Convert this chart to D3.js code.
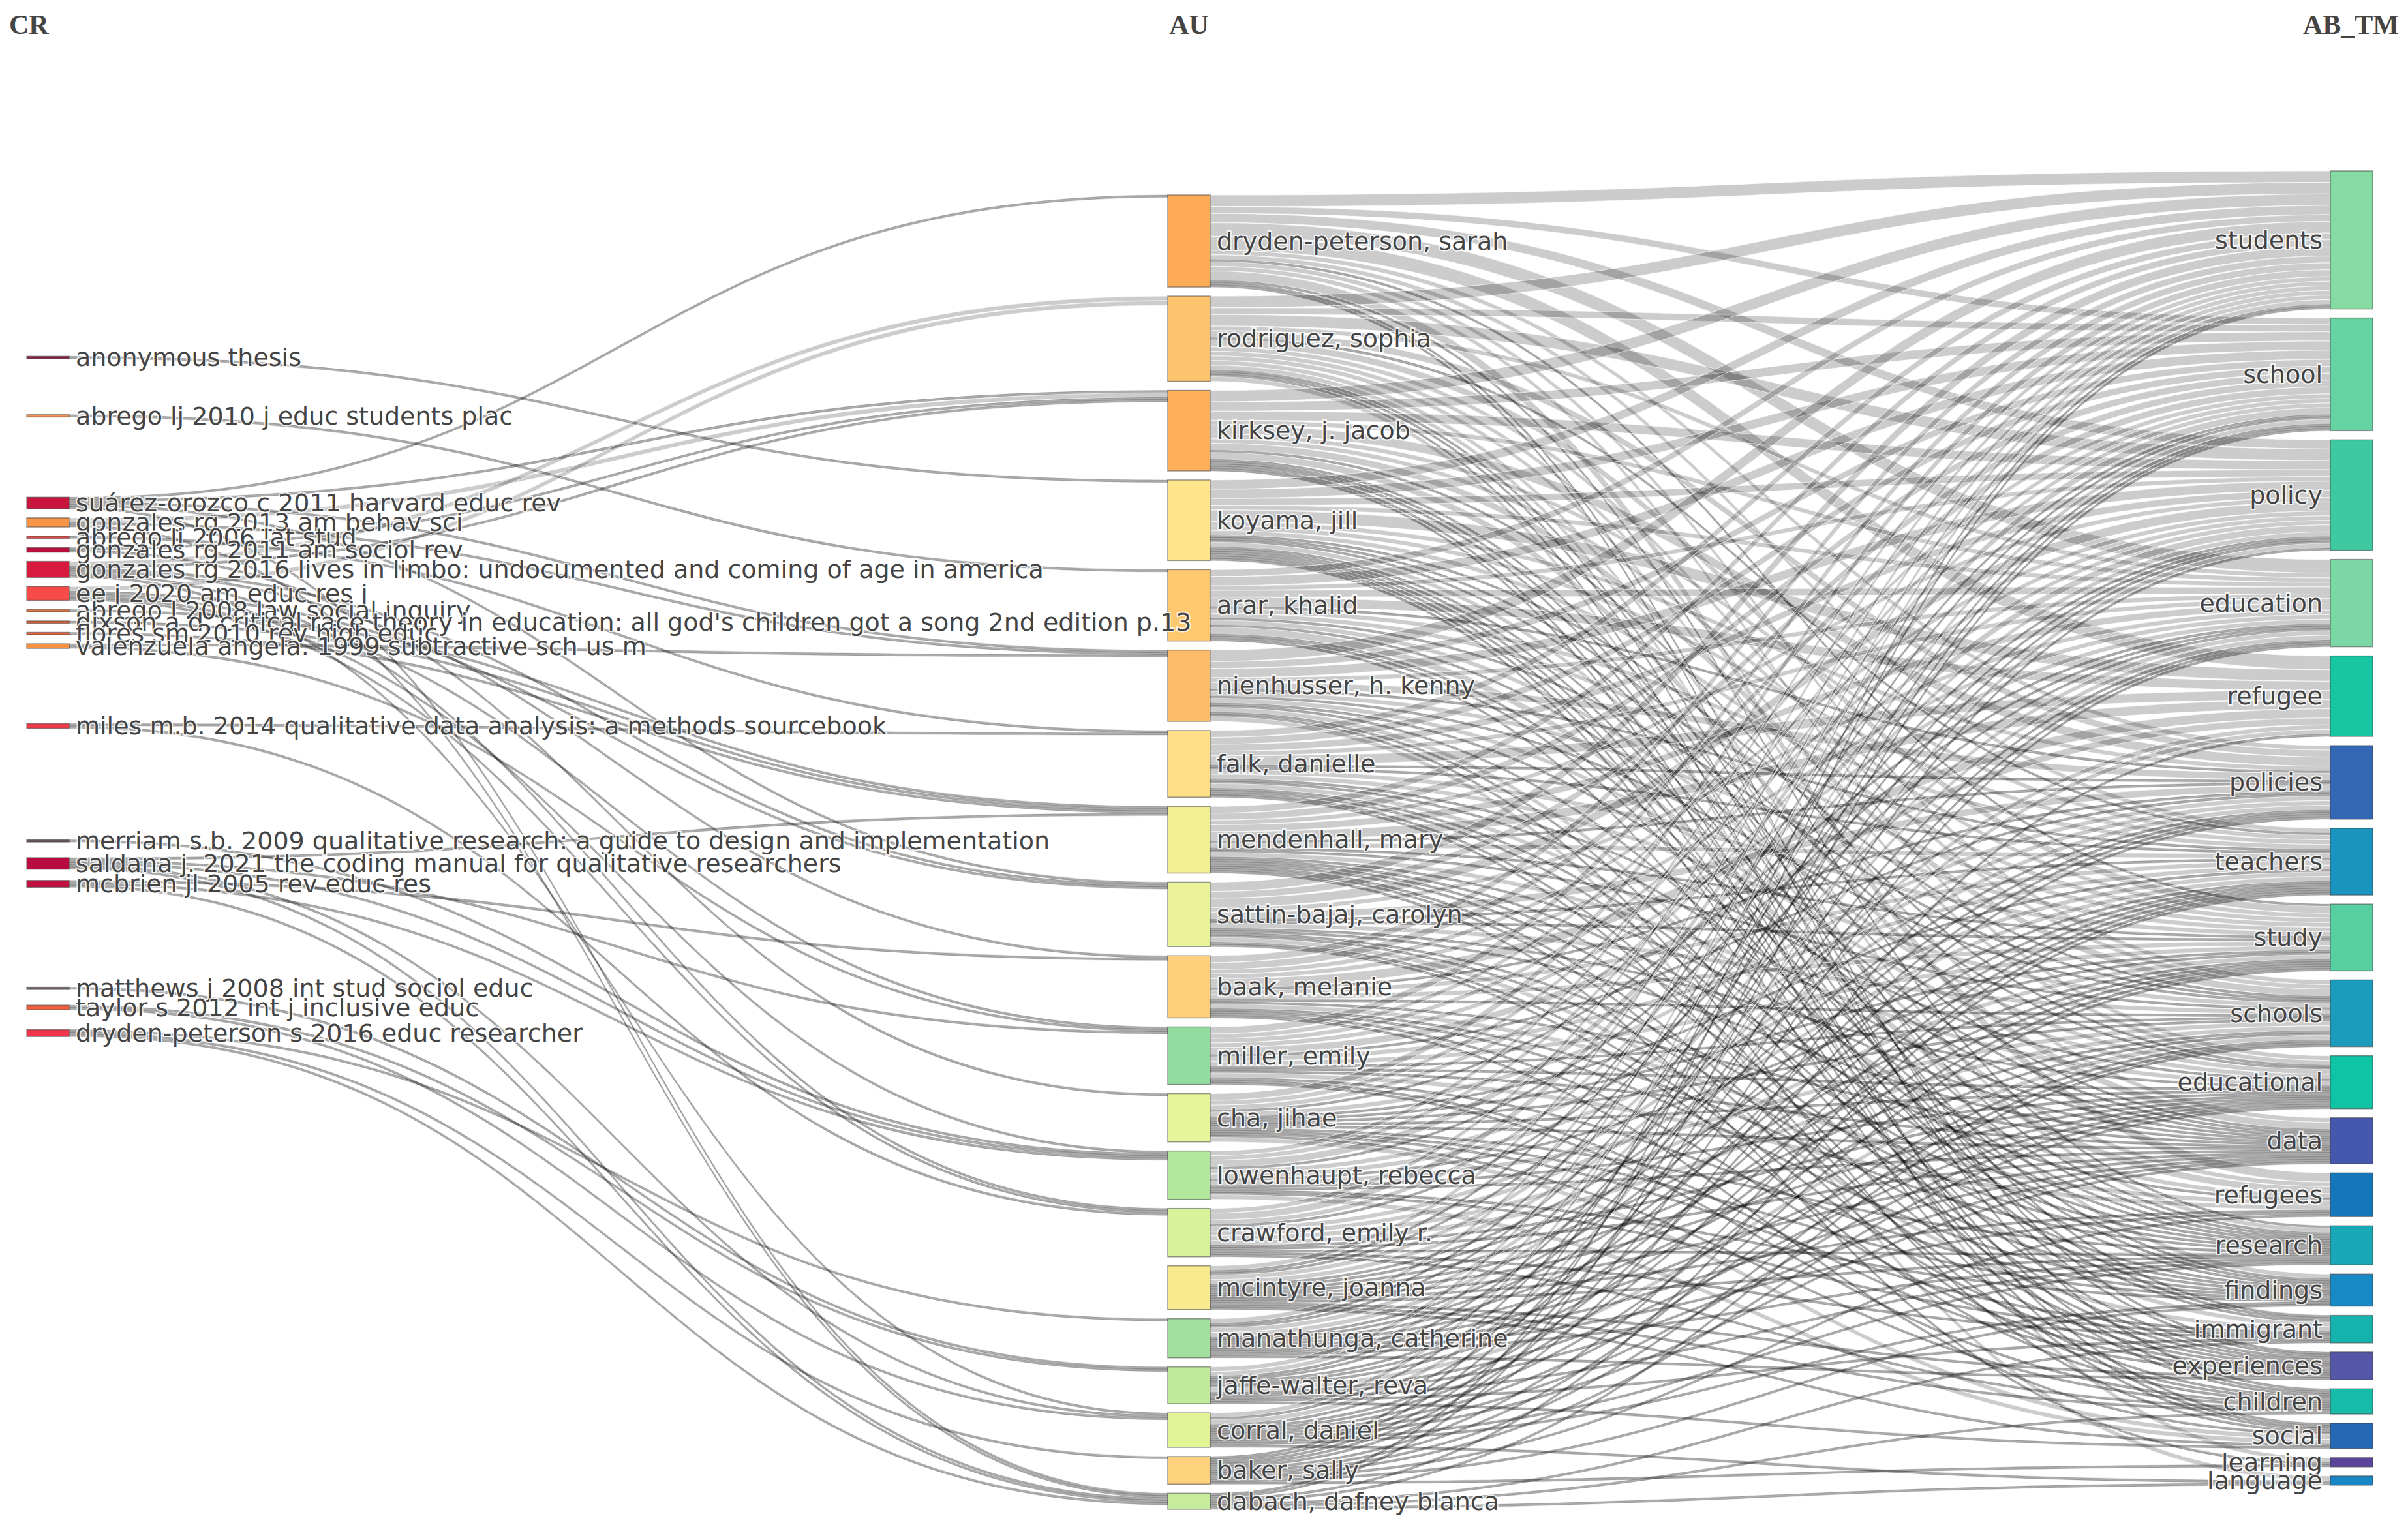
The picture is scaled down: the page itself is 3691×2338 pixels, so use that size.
<!DOCTYPE html>
<html>
<head>
<meta charset="utf-8">
<script src="https://cdn.jsdelivr.net/npm/d3@7"></script>
<style>
html, body { margin: 0; padding: 0; background: #ffffff; }
svg { display: block; }
</style>
</head>
<body>
<svg id="chart" width="3691" height="2338"></svg>
<script>
// ---------------- DATA ----------------
const columns = ["CR", "AU", "AB_TM"];

const crNodes = [
  "anonymous thesis",
  "abrego lj 2010 j educ students plac",
  "suárez-orozco c 2011 harvard educ rev",
  "gonzales rg 2013 am behav sci",
  "abrego lj 2006 lat stud",
  "gonzales rg 2011 am sociol rev",
  "gonzales rg 2016 lives in limbo: undocumented and coming of age in america",
  "ee j 2020 am educ res j",
  "abrego l 2008 law social inquiry",
  "dixson a.d. critical race theory in education: all god's children got a song 2nd edition p.13",
  "flores sm 2010 rev high educ",
  "valenzuela angela. 1999 subtractive sch us m",
  "miles m.b. 2014 qualitative data analysis: a methods sourcebook",
  "merriam s.b. 2009 qualitative research: a guide to design and implementation",
  "saldana j. 2021 the coding manual for qualitative researchers",
  "mcbrien jl 2005 rev educ res",
  "matthews j 2008 int stud sociol educ",
  "taylor s 2012 int j inclusive educ",
  "dryden-peterson s 2016 educ researcher"
];
const crColors = [
  "#8e1b3f", "#f58f4e", "#c9153e", "#f99546", "#ef4f48", "#be0f3f", "#d71a3e",
  "#f84a48", "#f27a40", "#e8623a", "#e9643a", "#f89242", "#f03c48", "#6a5a60",
  "#b80c40", "#c01040", "#6a5a60", "#f06040", "#f0344c"
];

const auNodes = [
  "dryden-peterson, sarah", "rodriguez, sophia", "kirksey, j. jacob", "koyama, jill",
  "arar, khalid", "nienhusser, h. kenny", "falk, danielle", "mendenhall, mary",
  "sattin-bajaj, carolyn", "baak, melanie", "miller, emily", "cha, jihae",
  "lowenhaupt, rebecca", "crawford, emily r.", "mcintyre, joanna", "manathunga, catherine",
  "jaffe-walter, reva", "corral, daniel", "baker, sally", "dabach, dafney blanca"
];
const auColors = [
  "#fdab55", "#fec46d", "#fdaf5a", "#fee48b", "#fec86f", "#fdbd68", "#fedf88", "#f2ee92",
  "#eaf39a", "#fed07b", "#92dca1", "#e6f49a", "#b3e79d", "#d8f29a", "#f8e88e", "#a2e0a0",
  "#c0ea9b", "#e2f596", "#fed27c", "#c6eb9b"
];

const termNodes = [
  "students", "school", "policy", "education", "refugee", "policies", "teachers",
  "study", "schools", "educational", "data", "refugees", "research", "findings",
  "immigrant", "experiences", "children", "social", "learning", "language"
];
const termColors = [
  "#86dba2", "#66d3a2", "#3ec9a1", "#7bd8a5", "#17c6a2", "#3468b4", "#1a93bf",
  "#58cfa0", "#1c9cbd", "#0fc3a5", "#4658ad", "#1577ba", "#18a8b6", "#1989c6",
  "#16b3ae", "#5656a9", "#17bca8", "#2568b3", "#5b449c", "#1886c4"
];

// cited reference (index in crNodes) -> author, value
const crAuLinks = [
  [0, "koyama, jill", 1],
  [1, "arar, khalid", 1],
  [2, "dryden-peterson, sarah", 1], [2, "kirksey, j. jacob", 1], [2, "nienhusser, h. kenny", 1],
  [2, "sattin-bajaj, carolyn", 1], [2, "dabach, dafney blanca", 1],
  [3, "kirksey, j. jacob", 2], [3, "nienhusser, h. kenny", 1], [3, "dabach, dafney blanca", 1],
  [4, "falk, danielle", 1],
  [5, "kirksey, j. jacob", 1], [5, "cha, jihae", 1],
  [6, "rodriguez, sophia", 2], [6, "kirksey, j. jacob", 1], [6, "baak, melanie", 1],
  [6, "sattin-bajaj, carolyn", 1], [6, "crawford, emily r.", 1], [6, "corral, daniel", 1],
  [7, "rodriguez, sophia", 2], [7, "miller, emily", 1], [7, "sattin-bajaj, carolyn", 1],
  [7, "lowenhaupt, rebecca", 1], [7, "crawford, emily r.", 1],
  [8, "mendenhall, mary", 1],
  [9, "mendenhall, mary", 1],
  [10, "mendenhall, mary", 1],
  [11, "nienhusser, h. kenny", 1], [11, "miller, emily", 1],
  [12, "falk, danielle", 1], [12, "crawford, emily r.", 1],
  [13, "lowenhaupt, rebecca", 1],
  [14, "mendenhall, mary", 1], [14, "miller, emily", 1], [14, "lowenhaupt, rebecca", 1],
  [14, "corral, daniel", 1], [14, "dabach, dafney blanca", 1],
  [15, "baak, melanie", 1], [15, "lowenhaupt, rebecca", 1], [15, "dabach, dafney blanca", 1],
  [16, "jaffe-walter, reva", 1],
  [17, "jaffe-walter, reva", 1], [17, "corral, daniel", 1],
  [18, "manathunga, catherine", 1], [18, "baker, sally", 1], [18, "dabach, dafney blanca", 1]
];

// author (row, auNodes order) x keyword (column, termNodes order)
const auTermMatrix = [
  [5, 3, 4, 6, 6, 2, 2, 1, 2, 2, 0, 4, 1, 0, 0, 1, 1, 0, 0, 0],
  [5, 3, 5, 2, 0, 3, 1, 3, 2, 2, 2, 0, 2, 2, 1, 1, 0, 1, 2, 0],
  [5, 4, 4, 2, 0, 4, 2, 2, 3, 1, 3, 0, 1, 1, 1, 0, 1, 1, 0, 0],
  [4, 4, 3, 2, 5, 2, 2, 2, 1, 1, 1, 2, 1, 1, 1, 1, 1, 1, 0, 0],
  [3, 4, 2, 3, 4, 1, 2, 2, 1, 2, 1, 3, 1, 1, 0, 1, 0, 0, 0, 0],
  [5, 3, 4, 2, 0, 3, 1, 2, 1, 2, 1, 0, 1, 0, 2, 1, 0, 1, 0, 2],
  [3, 3, 3, 2, 4, 1, 1, 2, 2, 1, 1, 2, 1, 1, 0, 1, 1, 0, 0, 0],
  [3, 3, 2, 3, 4, 1, 2, 1, 1, 2, 1, 1, 1, 1, 0, 1, 1, 0, 1, 0],
  [4, 3, 4, 2, 0, 3, 1, 1, 2, 1, 1, 0, 1, 1, 2, 1, 1, 0, 0, 0],
  [3, 3, 2, 2, 4, 1, 2, 2, 1, 0, 1, 2, 1, 1, 0, 1, 0, 1, 0, 0],
  [3, 2, 2, 2, 3, 1, 2, 2, 1, 1, 1, 2, 0, 1, 0, 1, 1, 0, 0, 0],
  [3, 2, 2, 1, 0, 2, 1, 1, 1, 1, 1, 0, 1, 1, 1, 0, 1, 2, 0, 0],
  [2, 2, 3, 1, 0, 2, 2, 1, 2, 1, 1, 0, 0, 1, 1, 0, 0, 2, 0, 0],
  [2, 3, 2, 1, 0, 2, 2, 2, 2, 1, 1, 0, 1, 0, 1, 0, 1, 0, 0, 0],
  [2, 1, 1, 2, 2, 1, 1, 1, 1, 1, 1, 1, 1, 0, 0, 1, 1, 1, 0, 0],
  [2, 1, 1, 2, 2, 1, 1, 1, 1, 1, 1, 1, 1, 0, 0, 1, 0, 0, 0, 0],
  [2, 2, 1, 1, 0, 1, 1, 1, 2, 1, 1, 0, 1, 0, 1, 0, 0, 1, 0, 0],
  [2, 1, 2, 1, 0, 1, 1, 1, 1, 1, 1, 0, 1, 1, 0, 0, 0, 0, 0, 1],
  [1, 1, 1, 1, 1, 0, 1, 1, 1, 1, 0, 1, 0, 1, 0, 0, 0, 0, 1, 0],
  [1, 1, 0, 0, 0, 0, 1, 0, 1, 0, 0, 0, 0, 0, 1, 0, 1, 0, 0, 1]
];

// ---------------- LAYOUT ----------------
const W = 3691, H = 2338;
const nodeWidth = 65, nodePad = 14;
const yTop = 262, yBottom = 2314, colSpan = 2015;
const relax = 0.6;
const fontFamily = "'DejaVu Sans', Verdana, sans-serif";
const labelSize = 38;

const xCol = d3.scaleOrdinal().domain(columns).range([41, 1790, 3572]);

function makeNodes(names, colors, col) {
  return names.map((name, i) => ({ name, color: colors[i], col, index: i, sourceLinks: [], targetLinks: [] }));
}
const crN = makeNodes(crNodes, crColors, "CR");
const auN = makeNodes(auNodes, auColors, "AU");
const tmN = makeNodes(termNodes, termColors, "AB_TM");
const auByName = new Map(auN.map(d => [d.name, d]));

const links = [];
crAuLinks.forEach(([ci, au, v]) => links.push({ source: crN[ci], target: auByName.get(au), value: v }));
auTermMatrix.forEach((row, i) => row.forEach((v, j) => {
  if (v > 0) links.push({ source: auN[i], target: tmN[j], value: v });
}));
links.forEach(l => { l.source.sourceLinks.push(l); l.target.targetLinks.push(l); });

const allNodes = [...crN, ...auN, ...tmN];
allNodes.forEach(n => {
  n.inValue = d3.sum(n.targetLinks, l => l.value);
  n.outValue = d3.sum(n.sourceLinks, l => l.value);
  n.value = Math.max(n.inValue, n.outValue);
});

const cols = [crN, auN, tmN];
const ky = d3.min(cols, c => (colSpan - (c.length - 1) * nodePad) / d3.sum(c, n => n.value));
const hScale = d3.scaleLinear().domain([0, 1]).range([0, ky]);

cols.forEach(c => c.forEach(n => {
  n.x0 = xCol(n.col);
  n.x1 = n.x0 + nodeWidth;
  n.h = hScale(n.value);
}));

function stack(c, start) {
  let y = start;
  c.forEach(n => { n.y0 = y; n.y1 = y + n.h; y = n.y1 + nodePad; });
}
stack(tmN, yTop);
const auTotal = d3.sum(auN, n => n.h) + (auN.length - 1) * nodePad;
stack(auN, yBottom - auTotal);
stack(crN, yTop);

// relaxation of the first column toward the authors it links to
crN.forEach(n => {
  const init = (n.y0 + n.y1) / 2;
  const tot = d3.sum(n.sourceLinks, l => l.value);
  const m = d3.sum(n.sourceLinks, l => l.value * (l.target.y0 + hScale(l.target.inValue) / 2)) / tot;
  n.desired = init + relax * (m - init);
});

function computeBlock(b) {
  let off = 0;
  b.offs = [];
  b.members.forEach(n => { b.offs.push(off + n.h / 2); off += n.h + nodePad; });
  b.total = off - nodePad;
  let top = d3.mean(b.members, (n, i) => n.desired - b.offs[i]);
  top = Math.max(yTop, Math.min(yBottom - b.total, top));
  b.top = top;
  b.bottom = top + b.total;
}
function resolveColumn(c) {
  const sorted = c.slice().sort((a, b) => a.desired - b.desired);
  const blocks = [];
  sorted.forEach(n => {
    const b = { members: [n] };
    computeBlock(b);
    blocks.push(b);
    while (blocks.length > 1) {
      const cur = blocks[blocks.length - 1], prev = blocks[blocks.length - 2];
      if (prev.bottom + nodePad > cur.top) {
        blocks.pop(); blocks.pop();
        const mb = { members: prev.members.concat(cur.members) };
        computeBlock(mb);
        blocks.push(mb);
      } else break;
    }
  });
  blocks.forEach(b => b.members.forEach((n, i) => {
    const cy = b.top + b.offs[i];
    n.y0 = cy - n.h / 2; n.y1 = cy + n.h / 2;
  }));
}
resolveColumn(crN);

// link slots
allNodes.forEach(n => {
  n.sourceLinks.sort((a, b) => a.target.y0 - b.target.y0);
  n.targetLinks.sort((a, b) => a.source.y0 - b.source.y0);
  let y = n.y0;
  n.sourceLinks.forEach(l => { l.w = hScale(l.value); l.sy = y; y += l.w; });
  y = n.y0;
  n.targetLinks.forEach(l => { l.ty = y; y += hScale(l.value); });
});

function ribbon(l) {
  const x0 = l.source.x1, x1 = l.target.x0;
  const xi = d3.interpolateNumber(x0, x1);
  const xa = xi(0.5), xb = xi(0.5);
  const s0 = l.sy, s1 = l.sy + l.w, t0 = l.ty, t1 = l.ty + l.w;
  return `M${x0},${s0}C${xa},${s0} ${xb},${t0} ${x1},${t0}` +
         `L${x1},${t1}C${xb},${t1} ${xa},${s1} ${x0},${s1}Z`;
}

// ---------------- DRAW ----------------
const svg = d3.select("#chart");
svg.append("rect").attr("width", W).attr("height", H).attr("fill", "#ffffff");

svg.append("g").attr("class", "links")
  .selectAll("path").data(links).join("path")
  .attr("d", ribbon)
  .attr("fill", d => d.value <= 1 ? "rgba(0,0,0,0.33)" : "rgba(0,0,0,0.2)")
  .attr("stroke", d => d.value <= 1 ? "rgba(0,0,0,0.12)" : "rgba(255,255,255,0.6)")
  .attr("stroke-width", 1.2);

svg.append("g").attr("class", "nodes")
  .selectAll("rect").data(allNodes).join("rect")
  .attr("x", d => d.x0)
  .attr("y", d => d.y0)
  .attr("width", nodeWidth)
  .attr("height", d => Math.max(1, d.y1 - d.y0))
  .attr("fill", d => d.color)
  .attr("stroke", "rgba(68,68,68,0.55)")
  .attr("stroke-width", 1.5);

svg.append("g").attr("class", "labels")
  .selectAll("text").data(allNodes).join("text")
  .attr("x", d => d.col === "AB_TM" ? d.x0 - 12 : d.x1 + 10)
  .attr("y", d => (d.y0 + d.y1) / 2)
  .attr("text-anchor", d => d.col === "AB_TM" ? "end" : "start")
  .attr("dominant-baseline", "central")
  .attr("font-family", fontFamily)
  .attr("font-size", labelSize)
  .attr("fill", "#444")
  .attr("stroke", "rgba(255,255,255,0.8)")
  .attr("stroke-width", 4)
  .attr("paint-order", "stroke")
  .text(d => d.name);

// column titles
const titleAnchor = { "CR": "start", "AU": "middle", "AB_TM": "end" };
const titleX = { "CR": xCol("CR") - 27, "AU": xCol("AU") + nodeWidth / 2, "AB_TM": xCol("AB_TM") + nodeWidth + 40 };
svg.append("g").attr("class", "titles")
  .selectAll("text").data(columns).join("text")
  .attr("x", d => titleX[d])
  .attr("y", 52)
  .attr("text-anchor", d => titleAnchor[d])
  .attr("font-family", "'Liberation Serif', 'Times New Roman', serif")
  .attr("font-weight", "bold")
  .attr("font-size", 42)
  .attr("fill", "#444")
  .text(d => d);
</script>
</body>
</html>
